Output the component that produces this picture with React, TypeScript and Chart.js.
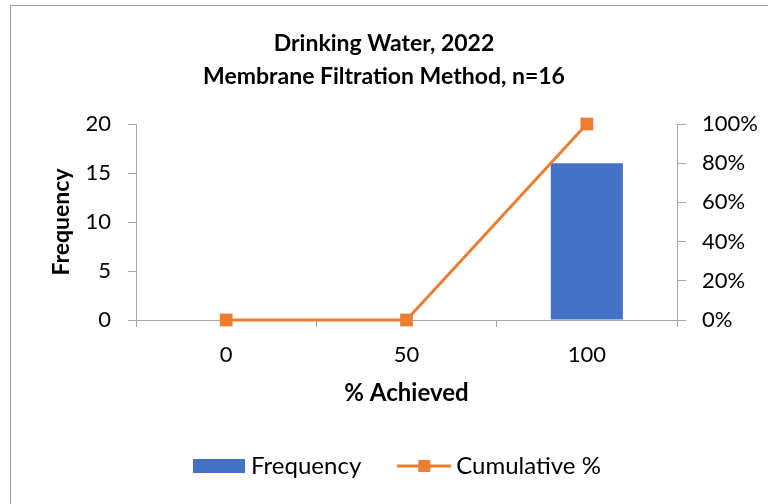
import React, { useEffect, useRef } from "react";
import { Chart, registerables } from "chart.js";

Chart.register(...registerables);

const titleLines = ["Drinking Water, 2022", "Membrane Filtration Method, n=16"];
const categories = ["0", "50", "100"];
const frequency = [0, 0, 16];
const cumulativePct = [0, 0, 100];
const freqAxisMax = 20;
const freqAxisStep = 5;
const pctAxisMax = 100;
const pctAxisStep = 20;
const xAxisTitle = "% Achieved";
const yAxisTitle = "Frequency";
const seriesNames = ["Frequency", "Cumulative %"];

const BLUE = "#4472C4";
const ORANGE = "#ED7D31";
const AXIS = "#a6a6a6";
const FONT = "Lato, 'Open Sans', sans-serif";

function makeBarIcon(): HTMLCanvasElement {
  const c = document.createElement("canvas");
  c.width = 52;
  c.height = 14;
  const ctx = c.getContext("2d")!;
  ctx.fillStyle = BLUE;
  ctx.fillRect(0, 0, 52, 14);
  return c;
}

function makeLineIcon(): HTMLCanvasElement {
  const c = document.createElement("canvas");
  c.width = 54;
  c.height = 14;
  const ctx = c.getContext("2d")!;
  ctx.strokeStyle = ORANGE;
  ctx.lineWidth = 3;
  ctx.beginPath();
  ctx.moveTo(0, 7);
  ctx.lineTo(54, 7);
  ctx.stroke();
  ctx.fillStyle = ORANGE;
  ctx.fillRect(21, 1, 12, 12);
  return c;
}

const shiftLegend = {
  id: "shiftLegend",
  afterLayout(chart: any) {
    if (chart.legend) {
      chart.legend.left += 16;
      chart.legend.right += 16;
    }
  },
};

export default function App() {
  const ref = useRef<HTMLCanvasElement | null>(null);

  useEffect(() => {
    if (!ref.current) return;
    const icons = [makeBarIcon(), makeLineIcon()];
    const chart = new Chart(ref.current, {
      type: "bar",
      plugins: [shiftLegend],
      data: {
        labels: categories,
        datasets: [
          {
            type: "bar",
            label: seriesNames[0],
            data: frequency,
            backgroundColor: BLUE,
            yAxisID: "y",
            barPercentage: 1,
            categoryPercentage: 0.4,
            order: 1,
          },
          {
            type: "line",
            label: seriesNames[1],
            data: cumulativePct,
            borderColor: ORANGE,
            backgroundColor: ORANGE,
            borderWidth: 3,
            pointStyle: "rect",
            pointRadius: 9,
            pointBorderWidth: 0,
            pointBackgroundColor: ORANGE,
            yAxisID: "y1",
            order: 0,
            clip: false,
          } as any,
        ],
      },
      options: {
        responsive: false,
        animation: false,
        layout: { padding: { left: 0, right: 0, top: 0, bottom: 16 } },
        plugins: {
          title: {
            display: true,
            text: titleLines,
            color: "#000",
            font: { family: FONT, size: 23, weight: "bold", lineHeight: 1.435 },
            padding: { top: 27, bottom: 31 },
          },
          legend: {
            position: "bottom",
            labels: {
              color: "#000",
              font: { family: FONT, size: 24 },
              usePointStyle: true,
              pointStyleWidth: 40,
              padding: 43,
              generateLabels: (ch: any) =>
                ch.data.datasets.map((ds: any, i: number) => ({
                  text: ds.label,
                  pointStyle: icons[i],
                  fillStyle: "transparent",
                  strokeStyle: "transparent",
                  lineWidth: 0,
                  hidden: false,
                  datasetIndex: i,
                  fontColor: "#000",
                })),
            },
          },
          tooltip: { enabled: false },
        },
        scales: {
          x: {
            grid: {
              drawOnChartArea: false,
              drawTicks: true,
              tickLength: 7,
              color: AXIS,
              offset: true,
            },
            border: { display: true, color: AXIS },
            ticks: { color: "#000", font: { family: FONT, size: 22 }, padding: 15 },
            title: {
              display: true,
              text: xAxisTitle,
              color: "#000",
              font: { family: FONT, size: 24, weight: "bold" },
              padding: { top: 0, bottom: 3 },
            },
            afterFit: (s: any) => {
              s.height = 91;
            },
          },
          y: {
            position: "left",
            min: 0,
            max: freqAxisMax,
            ticks: {
              stepSize: freqAxisStep,
              color: "#000",
              font: { family: FONT, size: 22 },
              padding: 17,
            },
            grid: { drawOnChartArea: false, drawTicks: true, tickLength: 8, color: AXIS },
            border: { display: true, color: AXIS },
            title: {
              display: true,
              text: yAxisTitle,
              color: "#000",
              font: { family: FONT, size: 23, weight: "bold" },
              padding: { top: 48, bottom: 0 },
            },
            afterFit: (s: any) => {
              s.width = 136;
            },
          },
          y1: {
            position: "right",
            min: 0,
            max: pctAxisMax,
            ticks: {
              stepSize: pctAxisStep,
              color: "#000",
              font: { family: FONT, size: 22 },
              padding: 16,
              callback: (v: any) => v + "%",
            },
            grid: { drawOnChartArea: false, drawTicks: true, tickLength: 9, color: AXIS },
            border: { display: true, color: AXIS },
            afterFit: (s: any) => {
              s.width = 91;
            },
          },
        },
      },
    });
    return () => chart.destroy();
  }, []);

  return (
    <div
      style={{
        position: "fixed",
        left: 0,
        top: 0,
        width: 768,
        height: 504,
        overflow: "hidden",
        background: "#fff",
      }}
    >
      <div
        style={{
          position: "absolute",
          left: 10,
          top: 5,
          width: 800,
          height: 540,
          border: "1px solid #a0a0a0",
          boxSizing: "border-box",
        }}
      />
      <canvas
        ref={ref}
        width={768}
        height={504}
        style={{ position: "absolute", left: 0, top: 0, width: 768, height: 504 }}
      />
    </div>
  );
}
